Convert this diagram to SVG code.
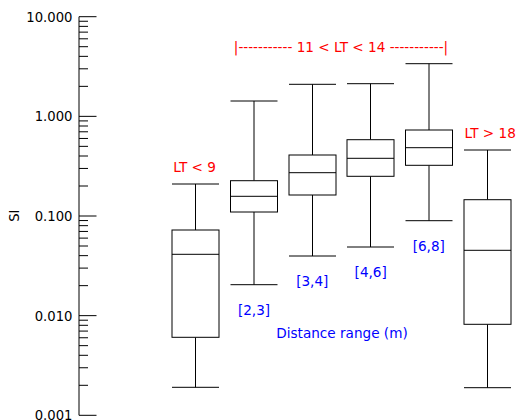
<svg xmlns="http://www.w3.org/2000/svg" width="518" height="420" viewBox="0 0 518 420">
<style>
  .ln{stroke:#000;stroke-width:1;fill:none}
  .bx{stroke:#000;stroke-width:1;fill:#fff}
  text{font-family:"DejaVu Sans","Liberation Sans",sans-serif}
  .tick{font-size:13.2px;fill:#000;text-anchor:end}
  .red{font-size:13.6px;fill:#ff0000}
  .blue{font-size:13.6px;fill:#0000ff}
</style>
<rect width="518" height="420" fill="#fff"/>
<g id="axis">
  <path class="ln" d="M79 16.7V415.3"/>
  <path class="ln" d="M79 16.7H96.5M79 116.35H96.5M79 216H96.5M79 315.65H96.5M79 415.3H96.5"/>
  <path class="ln" d="M79 86.35H88M79 68.8H88M79 56.35H88M79 46.7H88M79 38.81H88M79 32.14H88M79 26.36H88M79 21.26H88
    M79 186H88M79 168.45H88M79 156H88M79 146.35H88M79 138.46H88M79 131.79H88M79 126.01H88M79 120.91H88
    M79 285.65H88M79 268.1H88M79 255.65H88M79 246H88M79 238.11H88M79 231.44H88M79 225.66H88M79 220.56H88
    M79 385.3H88M79 367.75H88M79 355.3H88M79 345.65H88M79 337.76H88M79 331.09H88M79 325.31H88M79 320.21H88"/>
  <text class="tick" x="72.5" y="21.5">10.000</text>
  <text class="tick" x="72.5" y="121.2">1.000</text>
  <text class="tick" x="72.5" y="220.8">0.100</text>
  <text class="tick" x="72.5" y="320.5">0.010</text>
  <text class="tick" x="72.5" y="420.1">0.001</text>
  <text x="19.5" y="215.7" font-size="13.2px" text-anchor="middle" transform="rotate(-90 19.5 215.7)">SI</text>
</g>
<g id="box1">
  <path class="ln" d="M195.5 184V230M195.5 337.3V387.3M172 184H219M172 387.3H219"/>
  <rect class="bx" x="172" y="230" width="47" height="107.3"/>
  <path class="ln" d="M172 254.3H219"/>
</g>
<g id="box2">
  <path class="ln" d="M254 101V180.7M254 212V284.7M230.5 101H277.5M230.5 284.7H277.5"/>
  <rect class="bx" x="230.5" y="180.7" width="47" height="31.3"/>
  <path class="ln" d="M230.5 196.3H277.5"/>
</g>
<g id="box3">
  <path class="ln" d="M312.5 84.3V155M312.5 195V256M289 84.3H336M289 256H336"/>
  <rect class="bx" x="289" y="155" width="47" height="40"/>
  <path class="ln" d="M289 172.7H336"/>
</g>
<g id="box4">
  <path class="ln" d="M370.5 83.7V139.7M370.5 176.3V247M347 83.7H394M347 247H394"/>
  <rect class="bx" x="347" y="139.7" width="47" height="36.6"/>
  <path class="ln" d="M347 158.3H394"/>
</g>
<g id="box5">
  <path class="ln" d="M429 63.7V130M429 165.3V220.7M405.5 63.7H452.5M405.5 220.7H452.5"/>
  <rect class="bx" x="405.5" y="130" width="47" height="35.3"/>
  <path class="ln" d="M405.5 147.7H452.5"/>
</g>
<g id="box6">
  <path class="ln" d="M487.5 150V199.7M487.5 324.3V387.7M464 150H511M464 387.7H511"/>
  <rect class="bx" x="464" y="199.7" width="47" height="124.6"/>
  <path class="ln" d="M464 250.3H511"/>
</g>
<g id="labels">
  <text class="red" x="173.3" y="172.3">LT &lt; 9</text>
  <text class="red" x="341" y="52.3" text-anchor="middle">|----------- 11 &lt; LT &lt; 14 -----------|</text>
  <text class="red" x="464.5" y="137.7">LT &gt; 18</text>
  <text class="blue" x="254" y="314.8" text-anchor="middle">[2,3]</text>
  <text class="blue" x="312.3" y="286" text-anchor="middle">[3,4]</text>
  <text class="blue" x="370.7" y="276.5" text-anchor="middle">[4,6]</text>
  <text class="blue" x="428.8" y="250.5" text-anchor="middle">[6,8]</text>
  <text class="blue" x="342" y="338.3" text-anchor="middle">Distance range (m)</text>
</g>
</svg>
